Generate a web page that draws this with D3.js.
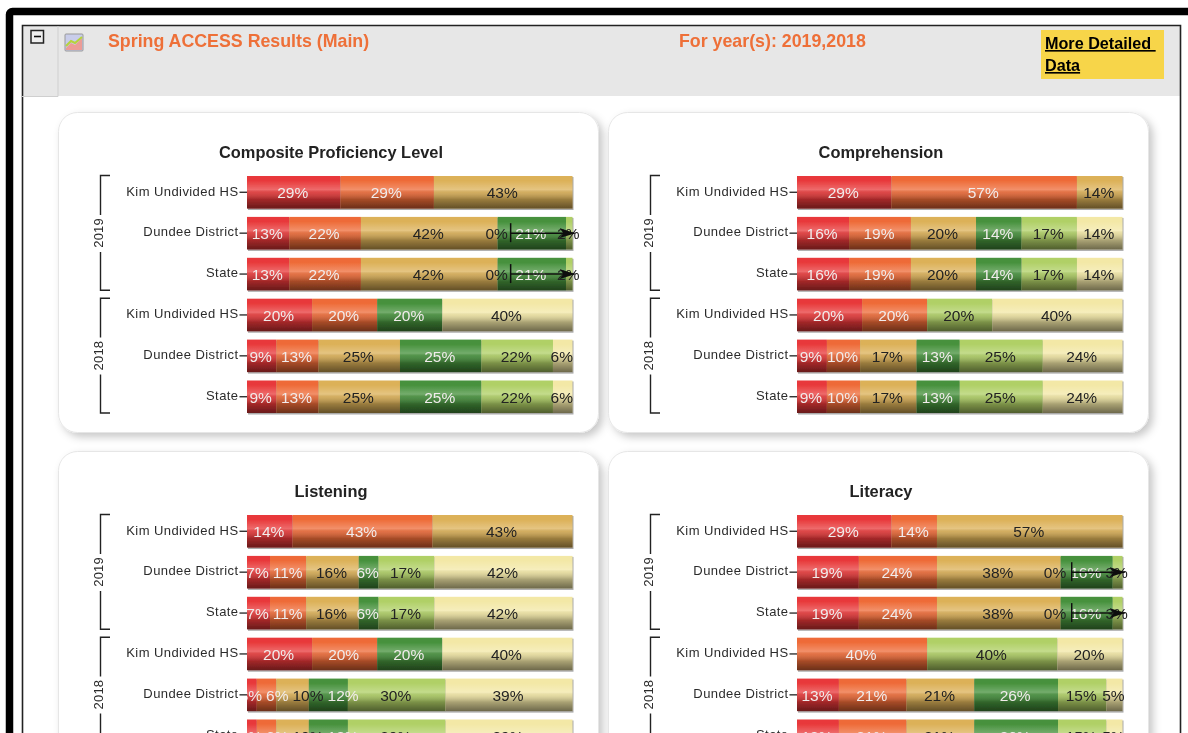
<!DOCTYPE html>
<html>
<head>
<meta charset="utf-8">
<script src="https://cdn.jsdelivr.net/npm/d3@7"></script>
<style>
  html, body { margin: 0; padding: 0; background: #fff; overflow: hidden; }
  svg { display: block; font-family: "Liberation Sans", Arial, sans-serif; }
</style>
</head>
<body>
<script>
var width = 1188, height = 733;

// 'none' never has width, it only carries the printed 0% between gold and green
var levels = ['red', 'orange', 'gold', 'none', 'green', 'lime', 'pale'];
var levelColors = ['#e8393a', '#ee6b38', '#dcb158', '#dcb158', '#46913c', '#b0d066', '#f3e8a6'];
var darkText = [false, false, true, true, false, true, true];

var rowLabels = ['Kim Undivided HS', 'Dundee District', 'State', 'Kim Undivided HS', 'Dundee District', 'State'];
var years = ['2019', '2018'];

// null = no segment and no label
var composite = [
  [29, 29, 43, null, null, null, null],
  [13, 22, 42, 0, 21, 2, null],
  [13, 22, 42, 0, 21, 2, null],
  [20, 20, null, null, 20, null, 40],
  [9, 13, 25, null, 25, 22, 6],
  [9, 13, 25, null, 25, 22, 6]
];
var comprehension = [
  [29, 57, 14, null, null, null, null],
  [16, 19, 20, null, 14, 17, 14],
  [16, 19, 20, null, 14, 17, 14],
  [20, 20, null, null, null, 20, 40],
  [9, 10, 17, null, 13, 25, 24],
  [9, 10, 17, null, 13, 25, 24]
];
var listening = [
  [14, 43, 43, null, null, null, null],
  [7, 11, 16, null, 6, 17, 42],
  [7, 11, 16, null, 6, 17, 42],
  [20, 20, null, null, 20, null, 40],
  [3, 6, 10, null, 12, 30, 39],
  [3, 6, 10, null, 12, 30, 39]
];
var literacy = [
  [29, 14, 57, null, null, null, null],
  [19, 24, 38, 0, 16, 3, null],
  [19, 24, 38, 0, 16, 3, null],
  [null, 40, null, null, null, 40, 20],
  [13, 21, 21, null, 26, 15, 5],
  [13, 21, 21, null, 26, 15, 5]
];

// where the stray arrow starts on the rows with a 0% label, in percent
var compositeArrow = 81;
var literacyArrow = 84.4;

var panels = [
  { title: 'Composite Proficiency Level', rows: composite, arrow: compositeArrow, px: 58, py: 112 },
  { title: 'Comprehension', rows: comprehension, arrow: null, px: 608, py: 112 },
  { title: 'Listening', rows: listening, arrow: null, px: 58, py: 451 },
  { title: 'Literacy', rows: literacy, arrow: literacyArrow, px: 608, py: 451 }
];

var svg = d3.select('body').append('svg')
  .attr('width', width)
  .attr('height', height);

var defs = svg.append('defs');

var shade = defs.append('linearGradient').attr('id', 'shade')
  .attr('x1', 0).attr('y1', 0).attr('x2', 0).attr('y2', 1);
shade.append('stop').attr('offset', '0').attr('stop-color', '#fff').attr('stop-opacity', 0);
shade.append('stop').attr('offset', '0.14').attr('stop-color', '#fff').attr('stop-opacity', 0);
shade.append('stop').attr('offset', '0.42').attr('stop-color', '#fff').attr('stop-opacity', 0.25);
shade.append('stop').attr('offset', '0.5').attr('stop-color', '#999').attr('stop-opacity', 0.14);
shade.append('stop').attr('offset', '0.72').attr('stop-color', '#000').attr('stop-opacity', 0.3);
shade.append('stop').attr('offset', '1').attr('stop-color', '#000').attr('stop-opacity', 0.55);

var panelShadow = defs.append('filter').attr('id', 'panelShadow')
  .attr('x', '-5%').attr('y', '-5%').attr('width', '110%').attr('height', '110%');
panelShadow.append('feDropShadow').attr('dx', 4).attr('dy', 4)
  .attr('stdDeviation', 4.5).attr('flood-color', '#000').attr('flood-opacity', 0.22);

// the reference is a slightly soft screenshot
defs.append('filter').attr('id', 'soft')
  .attr('filterUnits', 'userSpaceOnUse')
  .attr('x', 0).attr('y', 0).attr('width', width).attr('height', height)
  .append('feGaussianBlur').attr('stdDeviation', 0.4);

defs.append('marker').attr('id', 'arrow')
  .attr('viewBox', '0 0 16 10').attr('refX', 15).attr('refY', 5)
  .attr('markerUnits', 'userSpaceOnUse')
  .attr('markerWidth', 16).attr('markerHeight', 10).attr('orient', 'auto')
  .append('path').attr('d', 'M0,0L16,5L0,10L4,5z').attr('fill', '#111');

var root = svg.append('g').attr('filter', 'url(#soft)');

root.append('rect').attr('width', width).attr('height', height).attr('fill', '#fff');

// page frame
root.append('rect').attr('x', 9.5).attr('y', 11.5).attr('width', width + 20).attr('height', height + 20)
  .attr('rx', 3).attr('fill', 'none').attr('stroke', '#000').attr('stroke-width', 7.5);
root.append('rect').attr('x', 22).attr('y', 26).attr('width', 1158).attr('height', 70).attr('fill', '#e7e7e7');
root.append('path').attr('d', 'M22.5,740V25.5H1180.5V740').attr('fill', 'none').attr('stroke', '#222').attr('stroke-width', 1.6);
root.append('path').attr('d', 'M22,96.5H58V26').attr('fill', 'none').attr('stroke', '#cfcfcf');

// collapse box and little chart icon
root.append('rect').attr('x', 31).attr('y', 30.5).attr('width', 12.5).attr('height', 12.5)
  .attr('fill', '#eee').attr('stroke', '#222').attr('stroke-width', 1.5);
root.append('path').attr('d', 'M34,36.5H41').attr('stroke', '#111').attr('stroke-width', 1.6);
var icon = root.append('g').attr('transform', 'translate(65,34)');
icon.append('rect').attr('width', 18).attr('height', 17).attr('rx', 1).attr('fill', '#c9cdea').attr('stroke', '#999');
icon.append('path').attr('d', 'M1,14L6,9L10,11L17,4V16H1Z').attr('fill', '#ec9c96');
icon.append('path').attr('d', 'M1,12L6,7L10,9L17,3').attr('fill', 'none').attr('stroke', '#b6d33a').attr('stroke-width', 2);

root.append('text').attr('x', 108).attr('y', 47).attr('fill', '#ee6f38')
  .attr('font-size', 17.8).attr('font-weight', 'bold').text('Spring ACCESS Results (Main)');
root.append('text').attr('x', 679).attr('y', 47).attr('fill', '#ee6f38')
  .attr('font-size', 17.8).attr('font-weight', 'bold').text('For year(s): 2019,2018');

root.append('rect').attr('x', 1041).attr('y', 30).attr('width', 123).attr('height', 49).attr('fill', '#f7d548');
root.append('text').attr('x', 1045).attr('y', 49).attr('font-size', 16.2).attr('font-weight', 'bold')
  .attr('text-decoration', 'underline').style('white-space', 'pre').text('More Detailed ');
root.append('text').attr('x', 1045).attr('y', 71).attr('font-size', 16.2).attr('font-weight', 'bold')
  .attr('text-decoration', 'underline').text('Data');

// all panels share the same inner scales, the group is translated
var x = d3.scaleLinear().domain([0, 1]).range([189, 514.5]);
var y = d3.scaleBand().domain(d3.range(rowLabels.length)).range([64, 301]).paddingInner(0.205);

var stack = d3.stack()
  .keys(d3.range(levels.length))
  .value(function(d, k) { return d[k]; })
  .offset(d3.stackOffsetExpand);

var labelGap = 4;

panels.forEach(function(p, pi) {
  var g = root.append('g').attr('transform', 'translate(' + p.px + ',' + p.py + ')');

  g.append('rect').attr('x', 0.5).attr('y', 0.5).attr('width', 540).attr('height', 320).attr('rx', 19)
    .attr('fill', '#fff').attr('stroke', '#e6e6e6').attr('filter', 'url(#panelShadow)');

  g.append('text').attr('x', 273).attr('y', 46).attr('text-anchor', 'middle')
    .attr('font-size', 16.4).attr('font-weight', 'bold').attr('fill', '#222').text(p.title);

  var clip = 'clip' + pi;
  defs.append('clipPath').attr('id', clip).append('rect')
    .attr('x', 189).attr('y', 50).attr('width', 345).attr('height', 270);

  var yAxis = d3.axisLeft(y).tickSize(7.5).tickPadding(1)
    .tickFormat(function(i) { return rowLabels[i]; });
  var ax = g.append('g').attr('transform', 'translate(' + x(0) + ',0)').call(yAxis);
  ax.select('.domain').remove();
  ax.selectAll('.tick line').attr('stroke', '#222').attr('stroke-width', 1.3);
  ax.selectAll('.tick text').attr('font-size', 13).attr('fill', '#2c2c2c').attr('font-family', 'inherit')
    .attr('letter-spacing', 0.42).attr('dy', '0.25em');

  // year brackets
  years.forEach(function(yr, yi) {
    var y0 = y(yi * 3) - 0.5, y1 = y(yi * 3 + 2) + y.bandwidth();
    var mid = (y0 + y1) / 2;
    g.append('path').attr('fill', 'none').attr('stroke', '#222').attr('stroke-width', 1.4)
      .attr('d', d3.line()([[52, y0], [42.5, y0], [42.5, mid - 18]]));
    g.append('path').attr('fill', 'none').attr('stroke', '#222').attr('stroke-width', 1.4)
      .attr('d', d3.line()([[42.5, mid + 19], [42.5, y1], [52, y1]]));
    g.append('text').attr('transform', 'translate(44.5,' + mid + ') rotate(-90)')
      .attr('text-anchor', 'middle').attr('font-size', 13).attr('letter-spacing', 0.2)
      .attr('fill', '#2c2c2c').text(yr);
  });

  var series = stack(p.rows);

  // faint shadow under each bar
  g.append('g').selectAll('rect').data(p.rows).enter().append('rect')
    .attr('x', x(0) + 1).attr('width', x(1) - x(0))
    .attr('y', function(d, i) { return y(i) + 1; })
    .attr('height', y.bandwidth() + 0.5)
    .attr('fill', '#aaa');

  var layer = g.append('g').selectAll('g').data(series).enter().append('g')
    .attr('fill', function(s) { return levelColors[s.key]; });
  layer.selectAll('rect').data(function(s) { return s; }).enter().append('rect')
    .attr('x', function(d) { return x(d[0]); })
    .attr('width', function(d) { return x(d[1]) - x(d[0]); })
    .attr('y', function(d, i) { return y(i); })
    .attr('height', y.bandwidth());
  layer.selectAll('rect').clone(true)
    .attr('fill', 'url(#shade)');

  // printed values, centred on each segment, then pushed apart where they would collide
  p.rows.forEach(function(r, i) {
    var items = [];
    series.forEach(function(s) {
      if (r[s.key] === null) return;
      items.push({ v: r[s.key], key: s.key, cx: (x(s[i][0]) + x(s[i][1])) / 2 - 1 });
    });
    var row = g.append('g').attr('clip-path', 'url(#' + clip + ')');
    var texts = row.selectAll('text').data(items).enter().append('text')
      .attr('y', y(i) + y.bandwidth() / 2 + 6)
      .attr('text-anchor', 'middle').attr('font-size', 15.5)
      .attr('fill', function(e) { return darkText[e.key] ? '#222' : '#f1ecec'; })
      .text(function(e) { return e.v + '%'; })
      .each(function(e) { e.w = this.getComputedTextLength(); });
    // 0% labels give way to the left, everything else to the right
    items.forEach(function(e, k) {
      if (e.v === 0 || k === 0) return;
      var prev = items[k - 1].v === 0 ? items[k - 2] : items[k - 1];
      e.cx = Math.max(e.cx, prev.cx + (prev.w + e.w) / 2 + labelGap);
    });
    items.forEach(function(e, k) {
      if (e.v !== 0) return;
      var next = items[k + 1];
      e.cx = Math.min(e.cx, next.cx - (next.w + e.w) / 2 - labelGap);
    });
    texts.attr('x', function(e) { return e.cx; });
  });

  // the stray arrow that sits on rows with a printed 0%
  p.rows.forEach(function(r, i) {
    if (r[3] !== 0) return;
    var ax0 = x(p.arrow / 100);
    var cy = y(i) + y.bandwidth() / 2;
    g.append('path').attr('d', d3.line()([[ax0, cy - 10], [ax0, cy + 9]]))
      .attr('stroke', '#111').attr('stroke-width', 1.5);
    g.append('path').attr('d', d3.line()([[ax0, cy], [x(1) + 2, cy]]))
      .attr('stroke', '#111').attr('stroke-width', 1.5).attr('marker-end', 'url(#arrow)');
  });
});
</script>
</body>
</html>
